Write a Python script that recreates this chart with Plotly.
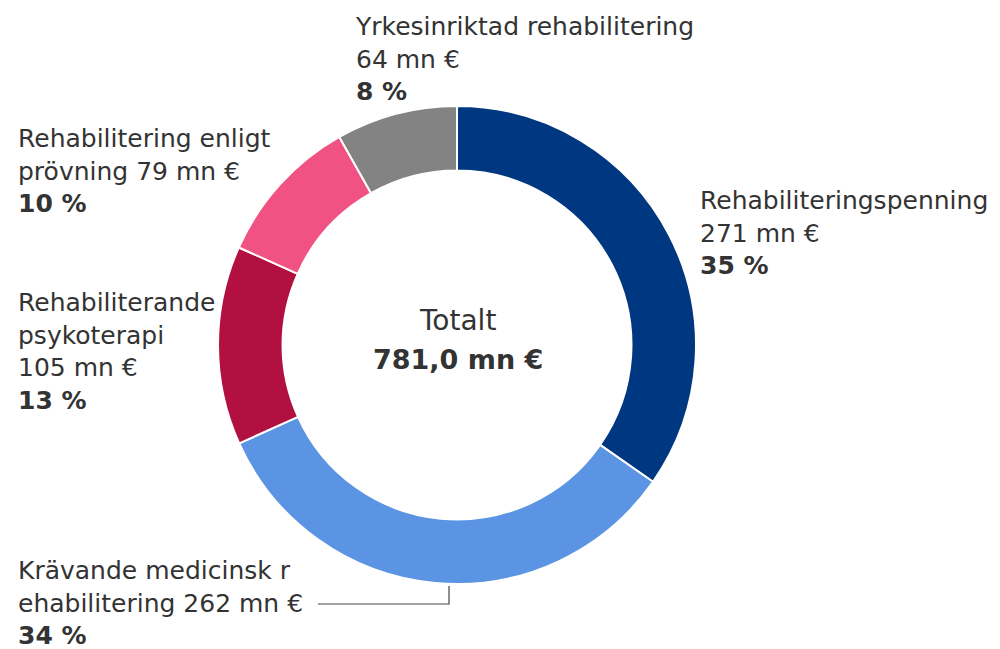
import plotly.graph_objects as go

categories = ["Rehabiliteringspenning", "Krävande medicinsk rehabilitering",
              "Rehabiliterande psykoterapi", "Rehabilitering enligt prövning",
              "Yrkesinriktad rehabilitering"]
values = [271, 262, 105, 79, 64]
percents = ["35 %", "34 %", "13 %", "10 %", "8 %"]
colors = ["#003781", "#5B94E2", "#B31042", "#F05284", "#838383"]
label_lines = [
    ["Rehabiliteringspenning", "271 mn €"],
    ["Krävande medicinsk r", "ehabilitering 262 mn €"],
    ["Rehabiliterande", "psykoterapi", "105 mn €"],
    ["Rehabilitering enligt", "prövning 79 mn €"],
    ["Yrkesinriktad rehabilitering", "64 mn €"],
]
total_title = "Totalt"
total_label = "781,0 mn €"

W, H = 1000, 649
OFF = 8  # page body margin
cx, cy, R = 457 - OFF, 345 - OFF, 239
FONT = "DejaVu Sans"
TXT = "#333333"
FS = 25

def px(x):
    return (x - OFF) / W

def py(y):
    return 1 - (y - OFF) / H

fig = go.Figure(go.Pie(
    labels=categories, values=values, sort=False, direction="clockwise",
    rotation=0, hole=0.73, textinfo="none", hoverinfo="label+value",
    marker=dict(colors=colors, line=dict(color="white", width=2)),
    domain=dict(x=[(cx - R) / W, (cx + R) / W], y=[(H - cy - R) / H, (H - cy + R) / H]),
    showlegend=False,
))

# label positions (page px: left x, block middle y)
label_pos = [(698, 233), (16, 603), (16, 351), (16, 171), (353, 59)]
anns = []
for lines, pct, (lx, ly) in zip(label_lines, percents, label_pos):
    anns.append(dict(x=px(lx), y=py(ly), xref="paper", yref="paper",
                     xanchor="left", yanchor="middle", align="left", showarrow=False,
                     text="<br>".join(lines + [f"<b>{pct}</b>"]),
                     font=dict(family=FONT, size=FS, color=TXT)))
anns.append(dict(x=px(457), y=py(320.5), xref="paper", yref="paper",
                 xanchor="center", yanchor="middle", showarrow=False,
                 text=total_title, font=dict(family=FONT, size=28, color=TXT)))
anns.append(dict(x=px(458), y=py(359.5), xref="paper", yref="paper",
                 xanchor="center", yanchor="middle", showarrow=False,
                 text=f"<b>{total_label}</b>", font=dict(family=FONT, size=27, color=TXT)))

fig.update_layout(
    width=W, height=H, margin=dict(l=0, r=0, t=0, b=0),
    paper_bgcolor="white", plot_bgcolor="white",
    annotations=anns,
    shapes=[dict(type="path", xref="paper", yref="paper",
                 path=f"M {px(318)} {py(604)} L {px(449)} {py(604)} L {px(449)} {py(586)}",
                 line=dict(color="#444444", width=1.2))],
)
fig.write_html("out.html")
